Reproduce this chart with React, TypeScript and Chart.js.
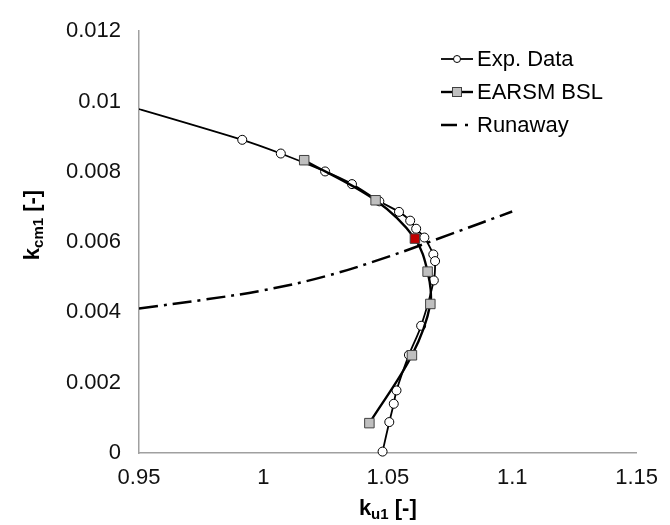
import React, { useEffect, useRef } from 'react';
import { Chart, registerables } from 'chart.js';

Chart.register(...registerables);

// ---- data ----
const expX = [0.93, 0.9915, 1.007, 1.0248, 1.0356, 1.0466, 1.0545, 1.059, 1.0614, 1.0647, 1.0683, 1.069, 1.0685, 1.0634, 1.0585, 1.0535, 1.0524, 1.0506, 1.0479];
const expY = [0.0102, 0.00891, 0.00852, 0.00801, 0.00765, 0.00716, 0.00686, 0.00661, 0.00638, 0.00613, 0.00565, 0.00546, 0.00491, 0.00362, 0.00279, 0.00178, 0.0014, 0.00088, 0.00004];

const earsmX = [1.0164, 1.0451, 1.0609, 1.066, 1.0671, 1.0597, 1.0426];
const earsmY = [0.00833, 0.00719, 0.0061, 0.00516, 0.00424, 0.00278, 0.00085];
const earsmHighlight = [false, false, true, false, false, false, false];

const runX = [0.95, 0.975, 1.0, 1.025, 1.05, 1.075, 1.1];
const runY = [0.00411, 0.00435, 0.00463, 0.00503, 0.00558, 0.00622, 0.00687];

const seriesLabels = ['Exp. Data', 'EARSM BSL', 'Runaway'];

const xTicks = [0.95, 1, 1.05, 1.1, 1.15];
const xTickLabels = ['0.95', '1', '1.05', '1.1', '1.15'];
const yTicks = [0, 0.002, 0.004, 0.006, 0.008, 0.01, 0.012];
const yTickLabels = ['0', '0.002', '0.004', '0.006', '0.008', '0.01', '0.012'];

const xTitleParts = ['k', 'u1', ' [-]'];
const yTitleParts = ['k', 'cm1', ' [-]'];

const FONT = '"Liberation Sans", Arial, sans-serif';

function drawSubTitle(ctx: CanvasRenderingContext2D, parts: string[], cx: number, cy: number) {
  const mainFont = `bold 22px ${FONT}`;
  const subFont = `bold 15px ${FONT}`;
  ctx.font = mainFont;
  const w0 = ctx.measureText(parts[0]).width;
  const w2 = ctx.measureText(parts[2]).width;
  ctx.font = subFont;
  const w1 = ctx.measureText(parts[1]).width;
  const total = w0 + w1 + w2;
  let x = cx - total / 2;
  ctx.fillStyle = '#000';
  ctx.textBaseline = 'alphabetic';
  ctx.textAlign = 'left';
  const base = cy + 7;
  ctx.font = mainFont;
  ctx.fillText(parts[0], x, base);
  x += w0;
  ctx.font = subFont;
  ctx.fillText(parts[1], x, base + 4);
  x += w1;
  ctx.font = mainFont;
  ctx.fillText(parts[2], x, base);
}

const overlayPlugin = {
  id: 'overlay',
  afterDraw(chart: any) {
    const ctx: CanvasRenderingContext2D = chart.ctx;
    const area = chart.chartArea;
    ctx.save();
    // axis titles
    drawSubTitle(ctx, xTitleParts, (area.left + area.right) / 2, 508);
    ctx.save();
    ctx.translate(32, 225);
    ctx.rotate(-Math.PI / 2);
    drawSubTitle(ctx, yTitleParts, 0, 0);
    ctx.restore();

    // legend
    const lx0 = 441;
    const lx1 = 473;
    const mx = 457;
    const rows = [59, 92, 125];
    ctx.strokeStyle = '#000';
    // row 0: line with circle
    ctx.lineWidth = 1.8;
    ctx.beginPath();
    ctx.moveTo(lx0, rows[0]);
    ctx.lineTo(lx1, rows[0]);
    ctx.stroke();
    ctx.beginPath();
    ctx.arc(mx, rows[0], 3.5, 0, Math.PI * 2);
    ctx.fillStyle = '#fff';
    ctx.fill();
    ctx.lineWidth = 1;
    ctx.stroke();
    // row 1: line with square
    ctx.lineWidth = 2.4;
    ctx.beginPath();
    ctx.moveTo(lx0, rows[1]);
    ctx.lineTo(lx1, rows[1]);
    ctx.stroke();
    ctx.fillStyle = '#bfbfbf';
    ctx.fillRect(mx - 4.5, rows[1] - 4.5, 9, 9);
    ctx.lineWidth = 1;
    ctx.strokeStyle = '#404040';
    ctx.strokeRect(mx - 4.5, rows[1] - 4.5, 9, 9);
    // row 2: dash dot
    ctx.strokeStyle = '#000';
    ctx.lineWidth = 2.5;
    ctx.beginPath();
    ctx.moveTo(lx0, rows[2]);
    ctx.lineTo(lx0 + 16, rows[2]);
    ctx.stroke();
    ctx.beginPath();
    ctx.moveTo(465, rows[2]);
    ctx.lineTo(468, rows[2]);
    ctx.stroke();

    ctx.fillStyle = '#000';
    ctx.font = `22px ${FONT}`;
    ctx.textAlign = 'left';
    ctx.textBaseline = 'middle';
    seriesLabels.forEach((l, i) => ctx.fillText(l, 477, rows[i] + 1));
    ctx.restore();
  },
};

export default function App() {
  const ref = useRef<HTMLCanvasElement | null>(null);
  useEffect(() => {
    if (!ref.current) return;
    const tickFont = { family: FONT, size: 22 };
    const chart = new Chart(ref.current, {
      type: 'scatter',
      data: {
        datasets: [
          {
            label: seriesLabels[1],
            data: earsmX.map((x, i) => ({ x, y: earsmY[i] })),
            showLine: true,
            tension: 0.35,
            borderColor: '#000',
            borderWidth: 2.4,
            pointStyle: 'rect',
            pointRadius: 6.7,
            pointHoverRadius: 6.7,
            pointBackgroundColor: earsmHighlight.map((h) => (h ? '#c00000' : '#bfbfbf')),
            pointBorderColor: '#404040',
            pointBorderWidth: 1,
            order: 0,
            clip: { left: 0, top: 8, right: 8, bottom: 8 },
          } as any,
          {
            label: seriesLabels[0],
            data: expX.map((x, i) => ({ x, y: expY[i] })),
            showLine: true,
            tension: 0.35,
            borderColor: '#000',
            borderWidth: 1.8,
            pointStyle: 'circle',
            pointRadius: expX.map((x) => (x < 0.95 ? 0 : 4.5)),
            pointBackgroundColor: '#fff',
            pointBorderColor: '#000',
            pointBorderWidth: 1,
            order: 1,
            clip: { left: 0, top: 8, right: 8, bottom: 8 },
          } as any,
          {
            label: seriesLabels[2],
            data: runX.map((x, i) => ({ x, y: runY[i] })),
            showLine: true,
            tension: 0.4,
            borderColor: '#000',
            borderWidth: 2.5,
            borderDash: [19, 6, 3, 6],
            pointRadius: 0,
            order: 2,
            clip: { left: 0, top: 8, right: 8, bottom: 8 },
          } as any,
        ],
      },
      options: {
        animation: false,
        responsive: false,
        layout: { padding: { left: 0, top: 18, right: 27, bottom: 0 } },
        plugins: { legend: { display: false }, tooltip: { enabled: false } },
        events: [],
        scales: {
          x: {
            type: 'linear',
            min: 0.95,
            max: 1.15,
            grid: { display: false, drawTicks: false },
            border: { display: true, color: '#a0a0a0', width: 1.5 },
            ticks: {
              font: tickFont,
              color: '#111',
              padding: 12,
              callback: (v: any) => {
                const i = xTicks.findIndex((t) => Math.abs(t - v) < 1e-9);
                return i >= 0 ? xTickLabels[i] : '';
              },
            },
            afterBuildTicks: (s: any) => {
              s.ticks = xTicks.map((v) => ({ value: v }));
            },
            afterFit: (s: any) => {
              s.height = 72;
            },
          },
          y: {
            type: 'linear',
            min: 0,
            max: 0.012,
            grid: { display: false, drawTicks: false },
            border: { display: true, color: '#a0a0a0', width: 1.5 },
            ticks: {
              font: tickFont,
              color: '#111',
              padding: 18,
              callback: (v: any) => {
                const i = yTicks.findIndex((t) => Math.abs(t - v) < 1e-9);
                return i >= 0 ? yTickLabels[i] : '';
              },
            },
            afterBuildTicks: (s: any) => {
              s.ticks = yTicks.map((v) => ({ value: v }));
            },
            afterFit: (s: any) => {
              s.width = 139;
            },
          },
        },
      } as any,
      plugins: [overlayPlugin],
    });
    return () => chart.destroy();
  }, []);

  return (
    <div style={{ position: 'absolute', left: 0, top: 0, width: 670, height: 525, background: '#fff' }}>
      <canvas ref={ref} width={670} height={525} style={{ display: 'block', width: 670, height: 525 }} />
    </div>
  );
}
